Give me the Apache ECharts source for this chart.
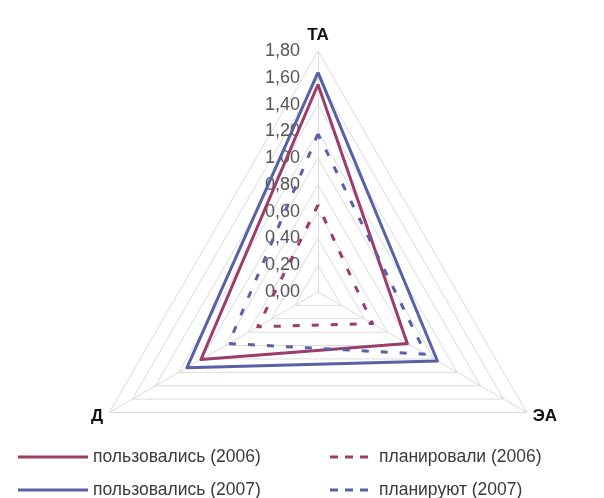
<!DOCTYPE html>
<html>
<head>
<meta charset="utf-8">
<script src="https://cdn.jsdelivr.net/npm/echarts@6/dist/echarts.min.js"></script>
<style>
  html, body { margin: 0; padding: 0; background: #fff; }
  #chart { width: 604px; height: 498px; }
</style>
</head>
<body>
<div id="chart"></div>
<script>
// Radar axes (top, bottom-left, bottom-right)
const axes = ['ТА', 'Д', 'ЭА'];
const axisMax = 1.8;
const tickStep = 0.2;

// Series names and values in axis order [ТА, Д, ЭА]
const names = ['пользовались (2006)', 'пользовались (2007)', 'планировали (2006)', 'планируют (2007)'];
const used2006 = [1.55, 1.01, 0.77];
const used2007 = [1.64, 1.13, 1.03];
const planned2006 = [0.65, 0.52, 0.47];
const planned2007 = [1.18, 0.77, 0.93];

const RED = '#9c3c6a';
const BLUE = '#5860a6';
const CX = 318, CY = 292, R = 241;

const dashIcon = 'path://M0,0h8v3h-8z M15,0h8v3h-8z M30,0h8v3h-8z';
const font = 'Arial, "Liberation Sans", sans-serif';

function legendAt(name, left, top, dashed) {
  return {
    data: [name],
    left: left, top: top,
    icon: dashed ? dashIcon : 'rect',
    itemWidth: dashed ? 38 : 70,
    itemHeight: 3,
    padding: 0,
    selectedMode: false,
    textStyle: { fontFamily: font, fontSize: 17.5, color: '#3a3a3a', padding: [0, 0, 0, dashed ? 6 : 0] }
  };
}

const chart = echarts.init(document.getElementById('chart'));
chart.setOption({
  animation: false,
  backgroundColor: '#fff',
  radar: {
    center: [CX, CY],
    radius: R,
    shape: 'polygon',
    splitNumber: Math.round(axisMax / tickStep),
    indicator: axes.map(n => ({ name: n, min: 0, max: axisMax })),
    nameGap: 7,
    axisName: { color: '#111', fontFamily: font, fontWeight: 'bold', fontSize: 17 },
    axisLine: { lineStyle: { color: '#dcdcdc', width: 1 } },
    splitLine: { lineStyle: { color: '#dcdcdc', width: 1 } },
    splitArea: { show: false },
    axisLabel: { show: false }
  },
  // value scale printed along the ТА axis
  grid: { left: CX, top: CY - R, width: 1, height: R },
  xAxis: { type: 'value', show: false },
  yAxis: {
    type: 'value', min: 0, max: axisMax, interval: tickStep,
    axisLine: { show: false }, axisTick: { show: false }, splitLine: { show: false },
    axisLabel: {
      margin: 18, fontFamily: font, fontSize: 18, color: '#555',
      formatter: v => v.toFixed(2).replace('.', ',')
    }
  },
  legend: [
    legendAt(names[0], 18, 448, false),
    legendAt(names[1], 18, 481, false),
    legendAt(names[2], 330, 448, true),
    legendAt(names[3], 330, 481, true)
  ],
  series: [{
    type: 'radar',
    symbol: 'none',
    data: [
      { name: names[0], value: used2006, itemStyle: { color: RED }, lineStyle: { color: RED, width: 3 } },
      { name: names[1], value: used2007, itemStyle: { color: BLUE }, lineStyle: { color: BLUE, width: 3 } },
      { name: names[2], value: planned2006, itemStyle: { color: RED }, lineStyle: { color: RED, width: 3, type: [7, 12] } },
      { name: names[3], value: planned2007, itemStyle: { color: BLUE }, lineStyle: { color: BLUE, width: 3, type: [7, 12] } }
    ]
  }]
});
</script>
</body>
</html>
